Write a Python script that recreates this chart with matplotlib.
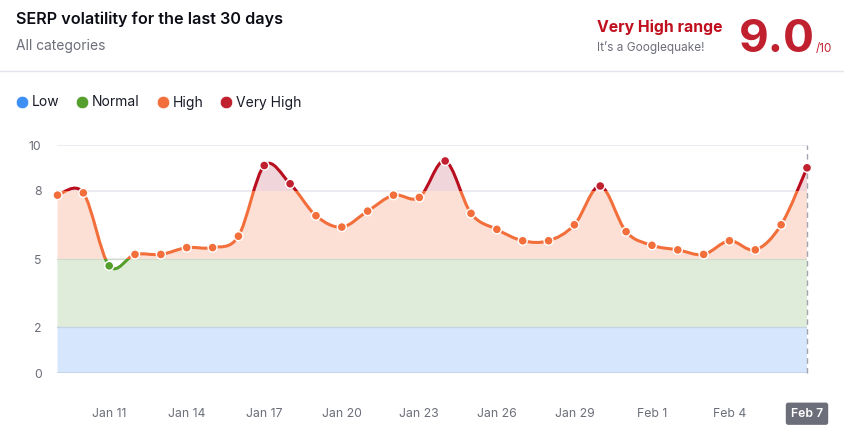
import numpy as np
import matplotlib
matplotlib.use('Agg')
import matplotlib.pyplot as plt
from matplotlib.lines import Line2D
from matplotlib.patches import PathPatch, Rectangle
from matplotlib.path import Path

plt.rcParams['font.family'] = ['Inter', 'DejaVu Sans']

# volatility score per day, Jan 9 to Feb 7
scores = [7.8, 7.9, 4.7, 5.2, 5.2, 5.5, 5.5, 6.0, 9.1, 8.3,
          6.9, 6.4, 7.1, 7.8, 7.7, 9.3, 7.0, 6.3, 5.8, 5.8,
          6.5, 8.2, 6.2, 5.6, 5.4, 5.2, 5.8, 5.4, 6.5, 9.0]
tick_days = [2, 5, 8, 11, 14, 17, 20, 23, 26, 29]
tick_labels = ['Jan 11', 'Jan 14', 'Jan 17', 'Jan 20', 'Jan 23',
               'Jan 26', 'Jan 29', 'Feb 1', 'Feb 4', 'Feb 7']
y_ticks = [0, 2, 5, 8, 10]
legend_names = ['Low', 'Normal', 'High', 'Very High']

W, H = 845, 438
GREY = '#6c6e79'
DARK = '#181a26'


def smooth_path(xs, ys, close_to=None):
    # catmull-rom through the points, as bezier segments
    n = len(xs)
    verts = [(xs[0], ys[0])]
    codes = [Path.MOVETO]
    for i in range(n - 1):
        x0, y0 = (xs[max(i - 1, 0)], ys[max(i - 1, 0)])
        x1, y1 = xs[i], ys[i]
        x2, y2 = xs[i + 1], ys[i + 1]
        x3, y3 = (xs[min(i + 2, n - 1)], ys[min(i + 2, n - 1)])
        verts += [(x1 + (x2 - x0) / 6, y1 + (y2 - y0) / 6),
                  (x2 - (x3 - x1) / 6, y2 - (y3 - y1) / 6),
                  (x2, y2)]
        codes += [Path.CURVE4] * 3
    if close_to is not None:
        verts += [(xs[-1], close_to), (xs[0], close_to), (xs[0], ys[0])]
        codes += [Path.LINETO, Path.LINETO, Path.CLOSEPOLY]
    return Path(verts, codes)


def band_color(v):
    if v < 2:
        return '#3d8ff5'
    if v < 5:
        return '#559f2d'
    if v < 8:
        return '#f26f3c'
    return '#c1202f'


fig = plt.figure(figsize=(W / 100, H / 100), dpi=100)
ax = fig.add_axes([57.5 / W, 1 - 373 / H, (807 - 57.5) / W, (373 - 145) / H])
days = np.arange(len(scores))
ax.set_xlim(0, 29)
ax.set_ylim(0, 10)

for s in ax.spines.values():
    s.set_visible(False)

ax.set_yticks(y_ticks)
ax.set_xticks(tick_days)
ax.set_xticklabels(tick_labels)
ax.tick_params(axis='both', length=0, labelsize=8.8, labelcolor=GREY)
ax.tick_params(axis='x', pad=25)
ax.tick_params(axis='y', pad=11.5)
ax.grid(axis='y', color='#e8e9f0', lw=1.2, zorder=0)
ax.grid(axis='x', visible=False)
ax.set_axisbelow(True)

# bands: area under the curve is tinted per range, line colour follows too
bands = [(0, 2, '#d6e6fc', '#3d8ff5'),
         (2, 5, '#deecd9', '#559f2d'),
         (5, 8, '#fce0d6', '#f26f3c'),
         (8, 10, '#f0d5da', '#b90e1f')]
for lo, hi, fill, line in bands:
    clip = Rectangle((0, lo), 29, hi - lo, transform=ax.transData)
    area = PathPatch(smooth_path(days, scores, close_to=0), fc=fill, ec='none', zorder=1)
    ax.add_patch(area)
    area.set_clip_path(clip)
    curve = PathPatch(smooth_path(days, scores), fc='none', ec=line, lw=2.2, zorder=4,
                      clip_on=True, capstyle='round')
    ax.add_patch(curve)
    curve.set_clip_path(Rectangle((-1, lo), 31, hi - lo, transform=ax.transData))

for v, c in [(2, '#c3d2e6'), (5, '#cfdccb')]:
    ax.axhline(v, color=c, lw=0.9, zorder=2)
ax.axhline(0, color='#c3d2e6', lw=1.2, zorder=2)

ax.plot([29, 29], [0, 10], color='#a3a5ae', lw=1, ls=(0, (4, 3)), zorder=3, clip_on=False)

ax.scatter(days, scores, s=42, c=[band_color(v) for v in scores], edgecolors='white',
           linewidths=1.0, zorder=5, clip_on=False)

# the last date is shown as a dark chip
last = ax.get_xticklabels()[-1]
last.set_color('white')
last.set_fontweight('semibold')
last.set_bbox(dict(boxstyle='round,pad=0.42,rounding_size=0.2', fc=GREY, ec='none'))

# header
fig.text(16 / W, 1 - 19 / H, 'SERP volatility for the last 30 days', fontsize=11.65,
         fontweight='semibold', color='#0b0c14', va='center')
fig.text(16 / W, 1 - 46 / H, 'All categories', fontsize=9.95, color=GREY, va='center')
fig.text(597 / W, 1 - 27 / H, 'Very High range', fontsize=11.4, fontweight='bold',
         color='#c0101f', va='center')
fig.text(597 / W, 1 - 47 / H, 'It\u2019s a Googlequake!', fontsize=8.5, color=GREY, va='center')
fig.text(739 / W, 1 - 52 / H, '9.0', fontsize=33, fontweight='bold', color='#c1202f',
         va='baseline')
fig.text(816 / W, 1 - 52 / H, '/10', fontsize=8.4, color='#c1202f', va='baseline')
fig.add_artist(Line2D([0, 1], [1 - 70.5 / H] * 2, color='#e3e4ec', lw=1))

# legend
handles = [Line2D([], [], ls='none', marker='o', ms=9, mfc=c, mec='white', mew=0.5)
           for c in ['#3d8ff5', '#559f2d', '#f26f3c', '#c1202f']]
fig.legend(handles, legend_names, loc='center left', bbox_to_anchor=(4 / W, 1 - 102.5 / H),
           ncols=4, frameon=False, fontsize=10.0, labelcolor=DARK, handletextpad=-0.1,
           columnspacing=0.85, handlelength=1.6, borderpad=0)

fig.savefig('out.png', dpi=100)
